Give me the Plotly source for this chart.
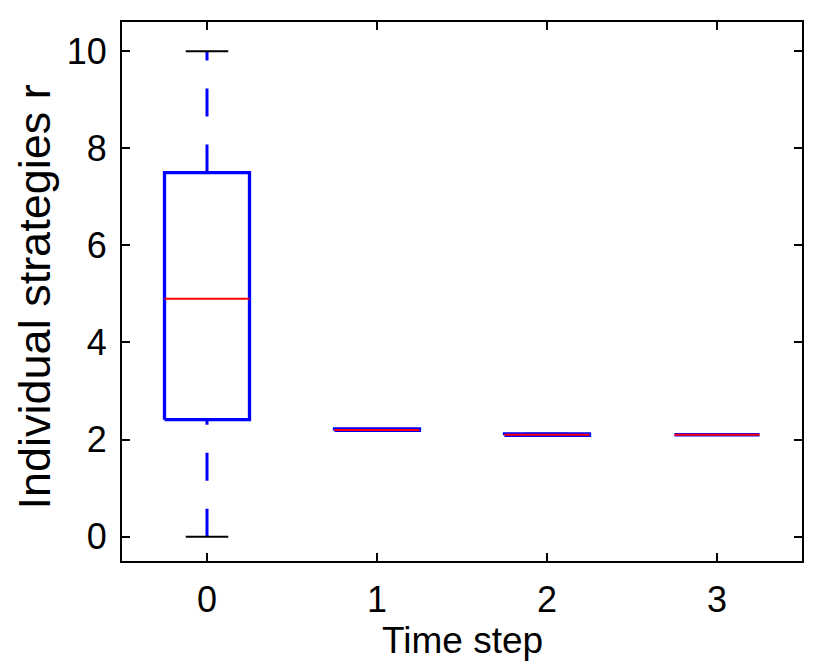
import plotly.graph_objects as go

# box statistics
steps = [0, 1, 2, 3]
lower = [0.0, 2.19, 2.09, 2.1]
q1 = [2.41, 2.19, 2.09, 2.1]
median = [4.9, 2.2, 2.1, 2.1]
q3 = [7.5, 2.22, 2.12, 2.1]
upper = [10.0, 2.22, 2.12, 2.1]

half = 0.25   # half box width
cap = 0.125   # half cap width

fig = go.Figure()

for i, x in enumerate(steps):
    # dashed whiskers, drawn box->upper and lower->box like matlab
    fig.add_trace(go.Scatter(x=[x, x, None, x, x], y=[q3[i], upper[i], None, lower[i], q1[i]],
                             mode="lines", line=dict(color="#0000ff", width=3, dash="28px,28px"),
                             hoverinfo="skip"))
    # caps
    fig.add_trace(go.Scatter(x=[x - cap, x + cap, None, x - cap, x + cap],
                             y=[upper[i], upper[i], None, lower[i], lower[i]],
                             mode="lines", line=dict(color="black", width=2), hoverinfo="skip"))
    # box
    fig.add_trace(go.Scatter(x=[x - half, x + half, x + half, x - half, x - half],
                             y=[q1[i], q1[i], q3[i], q3[i], q1[i]],
                             mode="lines", line=dict(color="#0000ff", width=3.3), hoverinfo="skip"))
    # median
    fig.add_trace(go.Scatter(x=[x - half, x + half], y=[median[i], median[i]],
                             mode="lines", line=dict(color="#ff0000", width=2), hoverinfo="skip"))

tick_font = dict(family="Liberation Sans, Arial", size=36, color="black")
title_font = "Liberation Sans, Arial"

fig.update_layout(
    width=822, height=656,   # page body has 8px margin
    margin=dict(l=114, r=28, t=14, b=103),
    plot_bgcolor="white", paper_bgcolor="white",
    showlegend=False,
    xaxis=dict(range=[-0.5, 3.5], tickvals=steps, ticktext=[str(s) for s in steps],
               ticks="inside", ticklen=8, tickwidth=2, tickcolor="black",
               showline=True, linewidth=2, linecolor="black", mirror="ticks",
               showgrid=False, zeroline=False, tickfont=tick_font, automargin=False,
               ticklabelstandoff=6),
    yaxis=dict(range=[-0.5, 10.6], tickvals=[0, 2, 4, 6, 8, 10],
               ticks="inside", ticklen=8, tickwidth=2, tickcolor="black",
               showline=True, linewidth=2, linecolor="black", mirror="ticks",
               showgrid=False, zeroline=False, tickfont=tick_font, ticklabelstandoff=6,
               automargin=False),
    annotations=[
        dict(text="Time step", xref="paper", yref="paper", x=0.5, y=0,
             xanchor="center", yanchor="middle", yshift=-79, showarrow=False,
             font=dict(family=title_font, size=37, color="black")),
        dict(text="Individual strategies r", xref="paper", yref="paper", x=0, y=0.5,
             xanchor="center", yanchor="middle", xshift=-88, yshift=-6, textangle=-90,
             showarrow=False, font=dict(family=title_font, size=45, color="black")),
    ],
)

fig.write_html("out.html")
